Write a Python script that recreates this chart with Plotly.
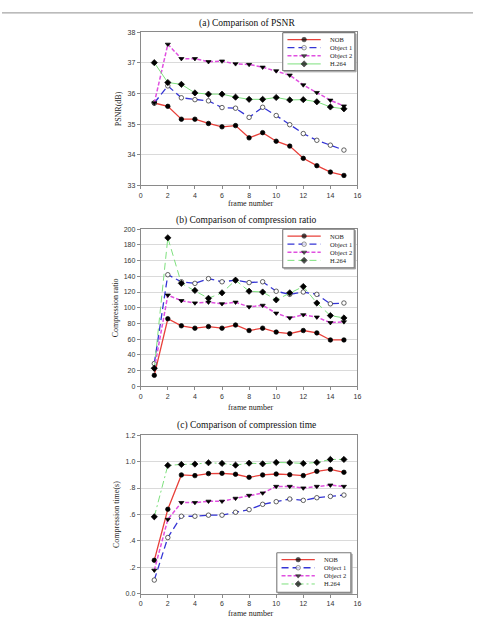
import plotly.graph_objects as go

W, H = 477, 620

frames = list(range(1, 16))
series_names = ["NOB", "Object 1", "Object 2", "H.264"]

psnr_nob = [35.69, 35.58, 35.16, 35.16, 35.02, 34.91, 34.95, 34.55, 34.72, 34.44, 34.28, 33.88, 33.64, 33.43, 33.32]
psnr_obj1 = [35.69, 36.25, 35.86, 35.80, 35.76, 35.54, 35.52, 35.22, 35.55, 35.28, 34.98, 34.69, 34.47, 34.31, 34.15]
psnr_obj2 = [35.69, 37.61, 37.14, 37.14, 37.04, 37.06, 36.97, 36.95, 36.86, 36.74, 36.60, 36.28, 36.03, 35.78, 35.59]
psnr_h264 = [37.01, 36.36, 36.30, 36.02, 35.98, 35.98, 35.88, 35.81, 35.81, 35.87, 35.79, 35.80, 35.73, 35.56, 35.50]

ratio_nob = [14, 86, 77, 74, 76, 74, 78, 71, 74, 69, 67, 71, 68, 59, 59]
ratio_obj1 = [29, 142, 133, 131, 137, 133, 135, 132, 133, 121, 117, 120, 117, 105, 106]
ratio_obj2 = [22, 116, 109, 106, 107, 105, 107, 101, 103, 93, 87, 91, 88, 81, 82]
ratio_h264 = [23, 189, 131, 122, 112, 119, 135, 121, 120, 110, 119, 127, 106, 90, 87]

time_nob = [0.254, 0.64, 0.899, 0.894, 0.909, 0.911, 0.904, 0.881, 0.899, 0.906, 0.901, 0.894, 0.926, 0.941, 0.919]
time_obj1 = [0.105, 0.426, 0.587, 0.587, 0.595, 0.595, 0.617, 0.637, 0.677, 0.697, 0.717, 0.707, 0.727, 0.737, 0.747]
time_obj2 = [0.179, 0.563, 0.690, 0.690, 0.700, 0.700, 0.722, 0.744, 0.762, 0.812, 0.812, 0.800, 0.812, 0.822, 0.812]
time_h264 = [0.583, 0.971, 0.978, 0.981, 0.991, 0.986, 0.973, 0.988, 0.983, 0.993, 0.991, 0.986, 0.993, 1.016, 1.016]

x_ticks = [0, 2, 4, 6, 8, 10, 12, 14, 16]
psnr_ticks = [33, 34, 35, 36, 37, 38]
ratio_ticks = [0, 20, 40, 60, 80, 100, 120, 140, 160, 180, 200]
time_ticks = [0.0, 0.2, 0.4, 0.6, 0.8, 1.0, 1.2]
time_tick_labels = ["0.0", ".2", ".4", ".6", ".8", "1.0", "1.2"]

titles = ["(a) Comparison of PSNR", "(b) Comparison of compression ratio", "(c) Comparison of compression time"]
y_titles = ["PSNR(dB)", "Compression ratio", "Compression time(s)"]
x_title = "frame number"

# styles
colors = ["#e8403a", "#3535d5", "#e050e0", "#7ee07e"]
widths = [1.3, 1.3, 1.5, 1.0]
dashes_by_panel = [
    ["solid", "7px,4px", "4px,2px", "solid"],
    ["solid", "7px,4px", "4px,2px", "7px,4px"],
    ["solid", "7px,4px", "4px,2px", "7px,3px,2px,3px"],
]
symbols = ["circle", "circle-open", "triangle-down", "diamond"]
msizes = [4.5, 4.5, 4.5, 4.8]

SERIF = "Liberation Serif, Times New Roman, serif"
SANS = "Liberation Sans, Arial, sans-serif"

# pixel layout of the three panels
px_left, px_right = 140.5, 360.0
panels_px = [(28.7, 183.3), (227.7, 386.7), (436.0, 596.7)]
title_y = [20, 219, 426]
xlabel_y = [202, 408, 616]
ylabel_x = [118, 115, 116]
legend_boxes = [(284.3, 29.0, 73.0, 38.3), (284.3, 227.7, 72.4, 39.0), (278.3, 555.0, 75.0, 40.0)]

data_sets = [
    [psnr_nob, psnr_obj1, psnr_obj2, psnr_h264],
    [ratio_nob, ratio_obj1, ratio_obj2, ratio_h264],
    [time_nob, time_obj1, time_obj2, time_h264],
]
yranges = [[33, 38], [0, 200], [0, 1.2]]
ytickvals = [psnr_ticks, ratio_ticks, time_ticks]
yticktexts = [[str(v) for v in psnr_ticks], [str(v) for v in ratio_ticks], time_tick_labels]

fig = go.Figure()
layout = dict(
    width=W, height=H, margin=dict(l=0, r=0, t=0, b=0),
    paper_bgcolor="white", plot_bgcolor="rgba(0,0,0,0)",
    showlegend=False, annotations=[], shapes=[],
)

axis_common = dict(
    showline=True, linecolor="#8a8a8a", linewidth=1, mirror=True,
    ticks="outside", ticklen=3, tickcolor="#8a8a8a",
    tickfont=dict(family=SANS, size=7, color="#333"),
    zeroline=False, fixedrange=True,
)


def marker_for(i, sizes):
    open_ = symbols[i] == "circle-open"
    return dict(symbol="circle" if open_ else symbols[i], size=sizes,
                color="white" if open_ else "black",
                line=dict(color="#222" if open_ else "black", width=0.7))


for p in range(3):
    sfx = "" if p == 0 else str(p + 1)
    top, bot = panels_px[p]
    ydom = [1 - bot / H, 1 - top / H]
    xdom = [px_left / W, px_right / W]
    layout["xaxis" + sfx] = dict(
        axis_common, domain=xdom, range=[0, 16], tickvals=x_ticks,
        showgrid=False, anchor="y" + sfx,
    )
    layout["yaxis" + sfx] = dict(
        axis_common, domain=ydom, range=yranges[p], tickvals=ytickvals[p],
        ticktext=yticktexts[p], showgrid=True, gridcolor="#dadada", gridwidth=1,
        anchor="x" + sfx,
    )
    for i in range(4):
        fig.add_trace(go.Scatter(
            x=frames, y=data_sets[p][i], mode="lines+markers", name=series_names[i],
            xaxis="x" + sfx, yaxis="y" + sfx,
            line=dict(color=colors[i], width=widths[i], dash=dashes_by_panel[p][i]),
            marker=marker_for(i, msizes[i]),
            hoverinfo="skip",
        ))
    layout["annotations"].append(dict(
        text=titles[p], x=248 / W, y=1 - title_y[p] / H, xref="paper", yref="paper",
        showarrow=False, font=dict(family=SERIF, size=9.5, color="#111"),
        xanchor="center", yanchor="middle"))
    layout["annotations"].append(dict(
        text=x_title, x=252 / W, y=1 - xlabel_y[p] / H, xref="paper", yref="paper",
        showarrow=False, font=dict(family=SERIF, size=8, color="#222"),
        xanchor="center", yanchor="middle"))
    layout["annotations"].append(dict(
        text=y_titles[p], x=ylabel_x[p] / W, y=1 - (top + bot) / 2 / H, xref="paper", yref="paper",
        showarrow=False, textangle=-90, font=dict(family=SERIF, size=8, color="#222"),
        xanchor="center", yanchor="middle"))

# overlay axis in pixel units for the legends
layout["xaxis4"] = dict(domain=[0, 1], range=[0, W], visible=False, fixedrange=True, anchor="y4")
layout["yaxis4"] = dict(domain=[0, 1], range=[H, 0], visible=False, fixedrange=True, anchor="x4")

for p in range(3):
    bx, by, bw, bh = legend_boxes[p]
    fig.add_trace(go.Scatter(
        x=[bx + 1.3, bx + bw + 1.3, bx + bw + 1.3, bx + 1.3, bx + 1.3],
        y=[by + 1.3, by + 1.3, by + bh + 1.3, by + bh + 1.3, by + 1.3],
        mode="lines", fill="toself", fillcolor="#a8a8a8", line=dict(color="#a8a8a8", width=1),
        xaxis="x4", yaxis="y4", hoverinfo="skip"))
    fig.add_trace(go.Scatter(
        x=[bx, bx + bw, bx + bw, bx, bx], y=[by, by, by + bh, by + bh, by],
        mode="lines", fill="toself", fillcolor="white", line=dict(color="#7a7a7a", width=1.1),
        xaxis="x4", yaxis="y4", hoverinfo="skip"))
    for i in range(4):
        ry = by + 7.0 + 8.2 * i
        x0, x1 = bx + 4.8, bx + 38.5
        fig.add_trace(go.Scatter(
            x=[x0, (x0 + x1) / 2, x1], y=[ry, ry, ry], mode="lines+markers",
            xaxis="x4", yaxis="y4", hoverinfo="skip",
            line=dict(color=colors[i], width=widths[i], dash=dashes_by_panel[p][i]),
            marker=marker_for(i, [0, msizes[i], 0])))
        layout["annotations"].append(dict(
            text=series_names[i], x=bx + 46, y=ry, xref="x4", yref="y4",
            showarrow=False, xanchor="left", yanchor="middle",
            font=dict(family=SERIF, size=6.5, color="#222")))

layout["shapes"].append(dict(type="line", xref="paper", yref="paper", x0=0, x1=1,
                             y0=1 - 9 / H, y1=1 - 9 / H, line=dict(color="#909090", width=1)))

fig.update_layout(**layout)
fig.write_html("out.html")
